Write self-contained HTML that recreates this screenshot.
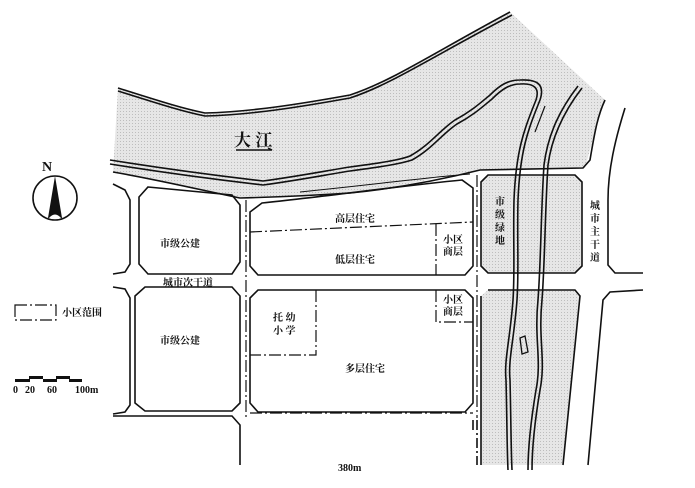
<!DOCTYPE html>
<html><head><meta charset="utf-8"><style>
html,body{margin:0;padding:0;background:#fff;}
svg{display:block;}
text{font-family:"Liberation Serif","Noto Serif CJK SC","Noto Sans CJK SC",serif;fill:#111;font-weight:bold;}
</style></head><body>
<svg width="695" height="488" viewBox="0 0 695 488" xmlns="http://www.w3.org/2000/svg">
<defs>
<pattern id="dots" width="3" height="3" patternUnits="userSpaceOnUse">
<rect width="3" height="3" fill="#e6e6e6"/><rect width="1" height="1" fill="#bdbdbd"/>
</pattern>
</defs>
<g fill="url(#dots)" stroke="none">
<path d="M118,88 C150,98 180,108 205,113 C250,112 300,104 350,95 C390,82 430,55 510,12 L605,100 C595,130 590,150 585,168 L480,170 C420,180 380,192 350,193 C300,195 260,198 240,198 C200,188 150,178 113,172 Z"/>
<path d="M488,175 L575,175 L582,182 L582,266 L575,273 L488,273 L481,266 L481,182 Z"/>
<path d="M488,290 L575,290 L580,296 L563,465 L481,465 L481,296 Z"/>
</g>
<g fill="none" stroke="#111" stroke-width="1.6">
<path d="M118,88 C150,98 180,108 205,113 C250,112 300,104 350,95 C390,82 430,55 510,12"/>
<path d="M118,91 C150,101 180,111 205,116 C250,115 300,107 350,98 C390,85 430,58 512,15"/>
<path d="M110,160 C160,168 220,176 263,181 C300,176 330,170 350,167 C380,163 400,160 410,156 C430,145 440,130 455,120 C470,112 478,105 490,95 C500,85 508,80 520,80 C538,79 545,85 540,100 C528,130 520,150 518,200 C517,240 519,270 517,300 C514,340 508,360 510,380 C511,420 511,450 512,470"/>
<path d="M110,164 C160,172 220,180 263,185 C300,180 330,174 350,171 C380,167 400,164 412,160 C432,149 442,134 457,124 C472,116 480,109 492,99 C502,89 510,84 520,84 C534,83 540,88 536,100 C524,130 516,150 514,200 C513,240 515,270 513,300 C510,340 504,360 506,380 C507,420 507,450 508,470"/>
<path d="M582,88 C565,110 552,135 548,165 C545,210 545,260 542,300 C538,340 546,360 540,390 C535,420 532,450 532,470"/>
<path d="M578,86 C561,108 548,133 544,165 C541,210 541,260 538,300 C534,340 542,360 536,390 C531,420 528,450 528,470"/>
<path d="M545,106 L535,132" stroke-width="1.2"/>
<path d="M520,338 L525,336 L528,352 L522,354 Z" stroke-width="1.3"/>
<path d="M113,172 C160,180 210,192 240,198 C280,197 320,195 350,193 C400,188 440,180 480,170 L583,168 L590,160 C595,130 598,115 605,100"/>
<path d="M625,108 C615,140 608,170 608,200 L608,265 L615,273 L643,273"/>
<path d="M643,290 L610,292 L603,300 L588,465"/>
<path d="M300,192 C380,184 430,177 470,174" stroke-width="1"/>
<path d="M113,184 L125,190 L130,200 L130,264 L125,272 L113,274"/>
<path d="M113,287 L125,289 L130,298 L130,405 L125,412 L113,414"/>
<path d="M113,416 L232,416 L240,425 L240,465"/>
<path d="M473,420 L473,430"/>
<path d="M477,420 L477,465" stroke-dasharray="10,3,2,3"/>
<path d="M148,187 L232,195 L240,205 L240,262 L232,274 L148,274 L139,264 L139,197 Z"/>
<path d="M145,287 L232,287 L240,296 L240,403 L232,411 L145,411 L135,403 L135,296 Z"/>
<path d="M262,203 C330,196 400,186 462,180 L473,188 L473,266 L465,275 L258,275 L250,266 L250,212 Z"/>
<path d="M258,290 L465,290 L473,298 L473,403 L465,412 L258,412 L250,403 L250,298 Z"/>
<path d="M488,175 L575,175 L582,182 L582,266 L575,273 L488,273 L481,266 L481,182 Z"/>
<path d="M488,290 L575,290 L580,296 L563,465"/>
<path d="M481,296 L481,465"/>
<g stroke-width="1.2" stroke-dasharray="12,3,2,3">
<path d="M246,200 L246,418"/>
<path d="M477,175 L477,418"/>
<path d="M250,232 L473,222"/>
<path d="M436,224 L436,275"/>
<path d="M436,290 L436,322 L473,322"/>
<path d="M316,290 L316,355 L250,355"/>
<path d="M250,413 L473,413"/>
<path d="M15,305 L56,305 L56,320 L15,320 Z"/>
</g>
<circle cx="55" cy="198" r="22"/>
</g>
<path d="M55,176 L62,218 L48,218 Z" fill="#111"/>
<path d="M49,218 Q55,211 61,218" fill="#fff"/>
<g fill="#111">
<rect x="15" y="379" width="15" height="3"/><rect x="29" y="376" width="14" height="3"/>
<rect x="43" y="379" width="14" height="3"/><rect x="56" y="376" width="14" height="3"/>
<rect x="69" y="379" width="13" height="3"/>
</g>
<text x="47" y="171" font-size="14" text-anchor="middle">N</text>
<text x="13" y="393" font-size="10" font-weight="normal">0</text>
<text x="25" y="393" font-size="10" font-weight="normal">20</text>
<text x="47" y="393" font-size="10" font-weight="normal">60</text>
<text x="75" y="393" font-size="10" font-weight="normal">100m</text>
<text x="62" y="316" font-size="10">小区范围</text>
<text x="234" y="146" font-size="17">大 江</text>
<path d="M236,150 L272,150 L268,148" stroke="#111" stroke-width="1.5" fill="none"/>
<text x="160" y="247" font-size="10">市级公建</text>
<text x="160" y="344" font-size="10">市级公建</text>
<text x="163" y="286" font-size="10">城市次干道</text>
<text x="335" y="222" font-size="10">高层住宅</text>
<text x="335" y="263" font-size="10">低层住宅</text>
<text x="443" y="243" font-size="10">小区</text>
<text x="443" y="255" font-size="10">商层</text>
<text x="443" y="303" font-size="10">小区</text>
<text x="443" y="315" font-size="10">商层</text>
<text x="273" y="321" font-size="10">托 幼</text>
<text x="273" y="334" font-size="10">小 学</text>
<text x="345" y="372" font-size="10">多层住宅</text>
<text x="338" y="471" font-size="10" font-weight="normal">380m</text>
<g font-size="10">
<text x="495" y="205">市</text><text x="495" y="218">级</text><text x="495" y="231">绿</text><text x="495" y="244">地</text>
<text x="590" y="209">城</text><text x="590" y="222">市</text><text x="590" y="235">主</text><text x="590" y="248">干</text><text x="590" y="261">道</text>
</g>
</svg>
</body></html>
